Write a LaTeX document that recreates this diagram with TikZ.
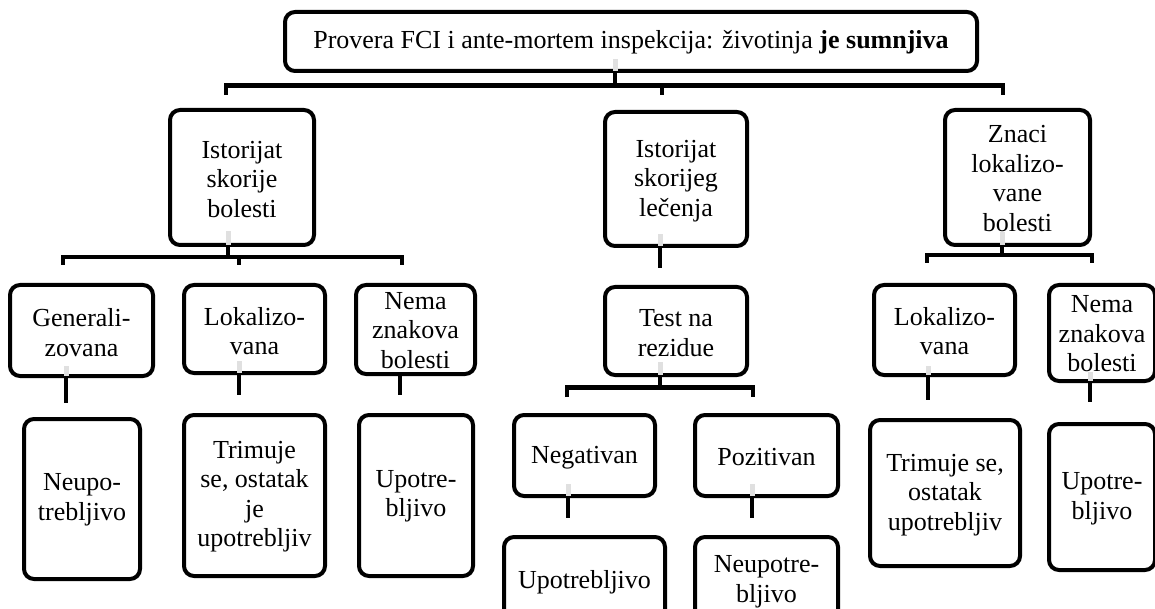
\documentclass[tikz,border=0pt]{standalone}
\usepackage{fontspec}
\setmainfont{Liberation Serif}
\begin{document}
\begin{tikzpicture}[x=1pt,y=-1pt,
  box/.style={draw=black, line width=4pt, rounded corners=10pt, fill=white, inner sep=0pt},
  txt/.style={align=center, inner sep=0pt, font=\fontsize{26}{29.5}\selectfont},
  conn/.style={draw=black, line width=4.5pt, line cap=butt, line join=miter},
  ghost/.style={draw=black!12, line width=5pt}
]
\useasboundingbox (0,0) rectangle (1155,609);
\clip (0,0) rectangle (1155,609);

% ---------- boxes ----------
\node[box, minimum width=692pt, minimum height=59pt] (top) at (631,41.5) {};
\node[box, minimum width=144pt, minimum height=135pt] (L1) at (242,177.5) {};
\node[box, minimum width=142pt, minimum height=134pt] (C1) at (676,179) {};
\node[box, minimum width=145pt, minimum height=135pt] (R1) at (1017.5,177.5) {};

\node[box, minimum width=143pt, minimum height=91pt] (gen) at (81.5,330.5) {};
\node[box, minimum width=141pt, minimum height=88pt] (lokL) at (254.5,329) {};
\node[box, minimum width=119pt, minimum height=89pt] (nemaL) at (415.5,329.5) {};
\node[box, minimum width=116pt, minimum height=160pt] (neupL) at (82,499) {};
\node[box, minimum width=141pt, minimum height=161pt] (trimL) at (254.5,495.5) {};
\node[box, minimum width=114pt, minimum height=161pt] (upoL) at (416,495.5) {};

\node[box, minimum width=142pt, minimum height=88pt] (test) at (676,331) {};
\node[box, minimum width=141pt, minimum height=81pt] (neg) at (584.5,455.5) {};
\node[box, minimum width=143pt, minimum height=81pt] (poz) at (766.5,455.5) {};
\node[box, minimum width=161pt, minimum height=86pt] (upoC) at (584.5,580) {};
\node[box, minimum width=143pt, minimum height=86pt] (neupC) at (766.5,580) {};

\node[box, minimum width=141pt, minimum height=90pt] (lokR) at (944.5,330) {};
\node[box, minimum width=106pt, minimum height=96pt] (nemaR) at (1102,333) {};
\node[box, minimum width=150pt, minimum height=146pt] (trimR) at (945,493) {};
\node[box, minimum width=106pt, minimum height=146pt] (upoR) at (1102,497) {};

% ---------- faint marks inside box bottoms ----------
\draw[ghost] ([yshift=2pt]top.south -| 615,0) -- ++(0,-12);
\draw[ghost] ([yshift=2pt]L1.south -| 228,0) -- ++(0,-14);
\draw[ghost] ([yshift=2pt]C1.south -| 660,0) -- ++(0,-12);
\draw[ghost] ([yshift=2pt]test.south -| 660,0) -- ++(0,-13);
\draw[ghost] ([yshift=2pt]R1.south -| 1002,0) -- ++(0,-13);
\draw[ghost] ([yshift=2pt]gen.south -| 66,0) -- ++(0,-10);
\draw[ghost] ([yshift=2pt]lokL.south -| 239,0) -- ++(0,-12);
\draw[ghost] ([yshift=2pt]neg.south -| 568,0) -- ++(0,-12);
\draw[ghost] ([yshift=2pt]poz.south -| 752,0) -- ++(0,-12);
\draw[ghost] ([yshift=2pt]lokR.south -| 928,0) -- ++(0,-9);
\draw[ghost] ([yshift=2pt]nemaR.south -| 1090,0) -- ++(0,-9);

% ---------- texts ----------
\node[txt] (topt) at ([yshift=-1pt]top.center) {Provera FCI i ante-mortem inspekcija: životinja \textbf{je sumnjiva}};
\node[txt] (L1t) at ([yshift=-2pt]L1.center) {Istorijat\\skorije\\bolesti};
\node[txt] (C1t) at ([yshift=-2pt]C1.center) {Istorijat\\skorijeg\\lečenja};
\node[txt] (R1t) at ([yshift=-1pt]R1.center) {Znaci\\lokalizo-\\vane\\bolesti};
\node[txt] (gent) at ([yshift=-2pt]gen.center) {Generali-\\zovana};
\node[txt] (lokLt) at ([yshift=-2pt]lokL.center) {Lokalizo-\\vana};
\node[txt] (nemaLt) at ([yshift=-1pt]nemaL.center) {Nema\\znakova\\bolesti};
\node[txt] (neupLt) at ([yshift=-1pt]neupL.center) {Neupo-\\trebljivo};
\node[txt] (trimLt) at ([yshift=-1pt]trimL.center) {Trimuje\\se, ostatak\\je\\upotrebljiv};
\node[txt] (upoLt) at ([yshift=-1pt]upoL.center) {Upotre-\\bljivo};
\node[txt] (testt) at ([yshift=-2pt]test.center) {Test na\\rezidue};
\node[txt] (negt) at ([yshift=-2pt]neg.center) {Negativan};
\node[txt] (pozt) at ([yshift=-2pt]poz.center) {Pozitivan};
\node[txt] (upoCt) at ([yshift=-2pt]upoC.center) {Upotrebljivo};
\node[txt] (neupCt) at ([yshift=-2pt]neupC.center) {Neupotre-\\bljivo};
\node[txt] (lokRt) at ([yshift=-1pt]lokR.center) {Lokalizo-\\vana};
\node[txt] (nemaRt) at ([yshift=-1pt]nemaR.center) {Nema\\znakova\\bolesti};
\node[txt] (trimRt) at ([yshift=-2pt]trimR.center) {Trimuje se,\\ostatak\\upotrebljiv};
\node[txt] (upoRt) at ([yshift=-2pt]upoR.center) {Upotre-\\bljivo};

% ---------- connectors ----------
% top group
\coordinate (bT) at (615,85.5);
\coordinate (sT1) at (226,95);
\coordinate (sT2) at (662,95);
\coordinate (sT3) at (1003,95);
\draw[conn] ([yshift=2pt]top.south -| bT) -- (bT);
\draw[conn] (sT1) |- (bT) -| (sT3);
\draw[conn] (sT2 |- bT) -- (sT2);

% left group
\coordinate (bL) at (228,257);
\coordinate (sL1) at (63,265);
\coordinate (sL2) at (239,265);
\coordinate (sL3) at (402,265);
\draw[conn] ([yshift=2pt]L1.south -| bL) -- (bL);
\draw[conn] (sL1) |- (bL) -| (sL3);
\draw[conn] (sL2 |- bL) -- (sL2);

\coordinate (eGen) at (66,403);
\coordinate (eLokL) at (239,395);
\coordinate (eNemaL) at (400,395);
\draw[conn] ([yshift=2pt]gen.south -| eGen) -- (eGen);
\draw[conn] ([yshift=2pt]lokL.south -| eLokL) -- (eLokL);
\draw[conn] ([yshift=2pt]nemaL.south -| eNemaL) -- (eNemaL);

% center group
\coordinate (eC1) at (660,268);
\draw[conn] ([yshift=2pt]C1.south -| eC1) -- (eC1);
\coordinate (bC) at (660,387.5);
\coordinate (sC1) at (567,397);
\coordinate (sC2) at (753,397);
\draw[conn] ([yshift=2pt]test.south -| bC) -- (bC);
\draw[conn] (sC1) |- (bC) -| (sC2);
\coordinate (eNeg) at (568,518);
\coordinate (ePoz) at (752,518);
\draw[conn] ([yshift=2pt]neg.south -| eNeg) -- (eNeg);
\draw[conn] ([yshift=2pt]poz.south -| ePoz) -- (ePoz);

% right group
\coordinate (bR) at (1002,255);
\coordinate (sR1) at (927,263);
\coordinate (sR2) at (1092,263);
\draw[conn] ([yshift=2pt]R1.south -| bR) -- (bR);
\draw[conn] (sR1) |- (bR) -| (sR2);
\coordinate (eLokR) at (928,400);
\coordinate (eNemaR) at (1090,402);
\draw[conn] ([yshift=2pt]lokR.south -| eLokR) -- (eLokR);
\draw[conn] ([yshift=2pt]nemaR.south -| eNemaR) -- (eNemaR);
\end{tikzpicture}
\end{document}
